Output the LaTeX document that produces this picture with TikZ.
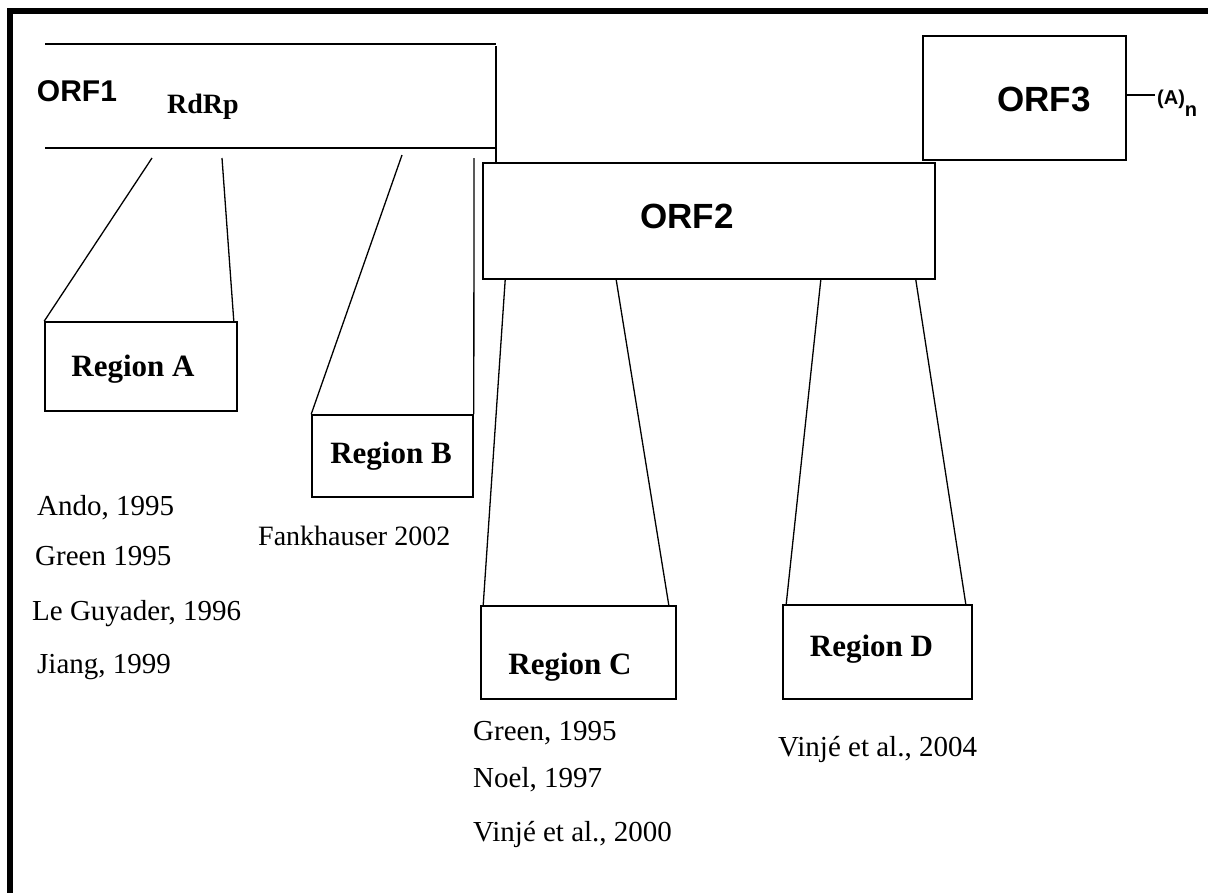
\documentclass[tikz,border=0pt]{standalone}
\usepackage{fontspec}
\setmainfont{Liberation Serif}
\setsansfont{Liberation Sans}
\begin{document}
\begin{tikzpicture}[x=1pt, y=-1pt, every node/.style={inner sep=0pt}, box/.style={draw, line width=1.6pt}, tag/.style={anchor=base, font=\fontsize{31}{36}\selectfont\bfseries}, orf/.style={font=\sffamily\fontsize{35}{40}\selectfont\bfseries}, ref/.style={anchor=base west, font=\fontsize{29}{34}\selectfont}, link/.style={line width=1.3pt}]
\useasboundingbox (0,0) rectangle (1208,892);
\draw[line width=6pt, line join=miter] (10,900) |- (1215,11);
% ORF1 (open on the left)
\draw[box] (45,44) -- (496,44) (45,148) -- (496,148) (496,46) -- (496,162);
\node[font=\sffamily\fontsize{30}{34}\selectfont\bfseries] (orf1) at (77,91) {ORF1};
\node[anchor=base west, font=\fontsize{28}{32}\selectfont\bfseries] (rdrp) at (167,113) {RdRp};
% ORF2, ORF3
\node[box, minimum width=452pt, minimum height=116pt] (orf2) at (709,221) {};
\node[orf] (orf2txt) at (687,216) {ORF2};
\node[box, minimum width=203pt, minimum height=124pt] (orf3) at (1024.5,98) {};
\node[orf] (orf3txt) at (1044,99) {ORF3};
\coordinate (tail) at (1155,95);
\draw[link] (orf3.east |- tail) -- (tail);
\node[anchor=base west, font=\sffamily\fontsize{20}{24}\selectfont\bfseries] (polya) at (1157,104) {(A)\raisebox{-12pt}{n}};
% regions
\node[box, minimum width=192pt, minimum height=89pt] (regA) at (141,366.5) {};
\node[box, minimum width=161pt, minimum height=82pt] (regB) at (392.5,456) {};
\node[box, minimum width=195pt, minimum height=93pt] (regC) at (578.5,652.5) {};
\node[box, minimum width=189pt, minimum height=94pt] (regD) at (877.5,652) {};
\node[tag] (regAtxt) at (133,376) {Region A};
\node[tag] (regBtxt) at (391,463) {Region B};
\node[tag] (regCtxt) at (570,674) {Region C};
\node[tag] (regDtxt) at (871.5,656) {Region D};
\coordinate (a1) at (152,158);
\coordinate (a2) at (222,158);
\coordinate (b1) at (402,155);
\coordinate (b2) at (474,158);
\draw[link] (a1) -- (regA.north west);
\draw[link] (a2) -- ([xshift=-4pt]regA.north east);
\draw[link] (b1) -- (regB.north west);
\draw[link] (b2) -- (regB.north east);
\draw[link] ([xshift=23pt]orf2.south west) -- ([xshift=3pt]regC.north west);
\draw[link] ([xshift=134pt]orf2.south west) -- ([xshift=-8pt]regC.north east);
\draw[link] ([xshift=-115pt]orf2.south east) -- ([xshift=4pt]regD.north west);
\draw[link] ([xshift=-20pt]orf2.south east) -- ([xshift=-7pt]regD.north east);
% references
\node[ref] (refA1) at (37,515) {Ando, 1995};
\node[ref] (refA2) at (35,565) {Green 1995};
\node[ref] (refA3) at (32,620) {Le Guyader, 1996};
\node[ref] (refA4) at (37,673) {Jiang, 1999};
\node[ref, font=\fontsize{28}{32}\selectfont] (refB1) at (258,545) {Fankhauser 2002};
\node[ref] (refC1) at (473,740) {Green, 1995};
\node[ref] (refC2) at (473,787) {Noel, 1997};
\node[ref] (refC3) at (473,841) {Vinjé et al., 2000};
\node[ref] (refD1) at (778,756) {Vinjé et al., 2004};
\end{tikzpicture}
\end{document}
